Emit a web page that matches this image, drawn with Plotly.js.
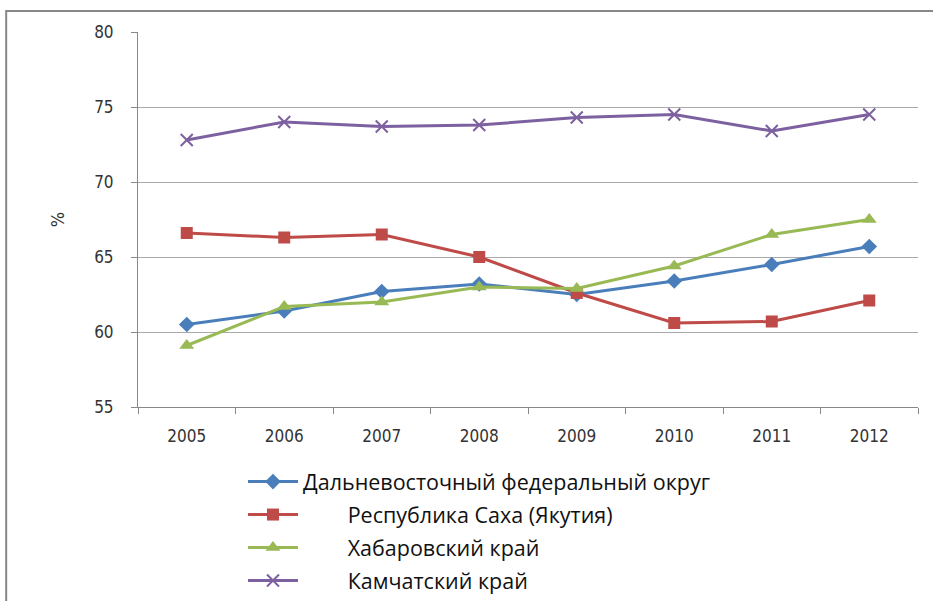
<!DOCTYPE html>
<html><head><meta charset="utf-8">
<script src="https://cdn.plot.ly/plotly-3.0.1.min.js"></script>
<style>html,body{margin:0;padding:0;background:#fff}#chart{width:933px;height:601px}</style>
</head><body><div id="chart"></div>
<script>
const years = ['2005','2006','2007','2008','2009','2010','2011','2012'];
const dfo = [60.5, 61.4, 62.7, 63.2, 62.5, 63.4, 64.5, 65.7];
const sakha = [66.6, 66.3, 66.5, 65.0, 62.6, 60.6, 60.7, 62.1];
const khab = [59.1, 61.7, 62.0, 63.0, 62.9, 64.4, 66.5, 67.5];
const kamch = [72.8, 74.0, 73.7, 73.8, 74.3, 74.5, 73.4, 74.5];
const names = ['Дальневосточный федеральный округ', '\u00a0\u00a0\u00a0\u00a0\u00a0\u00a0\u00a0\u00a0Республика Саха (Якутия)', '\u00a0\u00a0\u00a0\u00a0\u00a0\u00a0\u00a0\u00a0Хабаровский край', '\u00a0\u00a0\u00a0\u00a0\u00a0\u00a0\u00a0\u00a0Камчатский край'];
const yTicks = [55, 60, 65, 70, 75, 80];

const FONT = '"DejaVu Sans Condensed", "Open Sans", sans-serif';
const LFONT = '"Open Sans", sans-serif';
function tr(y, name, color, symbol, size, g){
  return {x: years, y: y, name: name, type: 'scatter', mode: 'lines+markers', legendgroup: g,
    line: {color: color, width: 3},
    marker: {color: color, symbol: symbol, size: size, line: {color: color, width: symbol === 'x-thin' ? 2 : 0}}};
}
const data = [
  tr(dfo, names[0], '#4a7ebb', 'diamond', 12, 'a'),
  tr(sakha, names[1], '#be4b48', 'square', 12, 'b'),
  tr(khab, names[2], '#98b954', 'triangle-up', 13, 'c'),
  tr(kamch, names[3], '#7d60a0', 'x-thin', 12, 'd')
];
const layout = {
  width: 933, height: 601,
  margin: {l: 138, r: 15, t: 32, b: 194, autoexpand: false},
  paper_bgcolor: '#fff', plot_bgcolor: '#fff',
  font: {family: FONT, size: 16, color: '#333'},
  showlegend: true,
  legend: {orientation: 'v', x: 0.1346, xanchor: 'left', y: -0.1443, yanchor: 'top',
    font: {family: LFONT, size: 21.5, color: '#111'}, tracegroupgap: 2, itemwidth: 50, bgcolor: 'rgba(0,0,0,0)'},
  xaxis: {type: 'category', range: [-0.5, 7.5], tickson: 'boundaries', ticks: 'outside', ticklen: 6,
    tickcolor: '#888', showline: true, linecolor: '#888', linewidth: 1, showgrid: false, zeroline: false,
    ticklabelstandoff: 14, tickangle: 0,
    tickfont: {family: FONT, size: 17, color: '#333'}, fixedrange: true},
  yaxis: {range: [55, 80], tickvals: yTicks, ticktext: yTicks.map(String), ticks: 'outside', ticklen: 6,
    tickcolor: '#888', showline: true, linecolor: '#888', gridcolor: '#aaa', gridwidth: 1, zeroline: false,
    ticklabelstandoff: 14,
    tickfont: {family: FONT, size: 17, color: '#333'},
    title: {text: '%', font: {family: FONT, size: 18, color: '#333'}, standoff: 24}},
  shapes: [{type: 'rect', xref: 'paper', yref: 'paper', x0: -0.169, x1: 1.1, y0: -0.6, y1: 1.056,
    line: {color: '#888', width: 2}, fillcolor: 'rgba(0,0,0,0)', layer: 'below'}]
};
Plotly.newPlot('chart', data, layout, {displayModeBar: false, staticPlot: true});
</script></body></html>
